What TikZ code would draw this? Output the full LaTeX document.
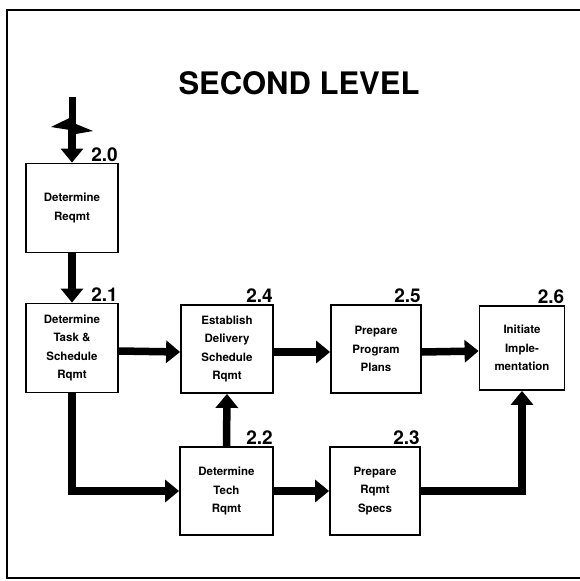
\documentclass[tikz,border=0pt]{standalone}
\usepackage{fontspec}
\setmainfont{TeX Gyre Heros}
\usetikzlibrary{arrows.meta}
\begin{document}
\begin{tikzpicture}[x=1pt,y=-1pt,
  box/.style={draw,line width=1.8pt,minimum width=92pt,minimum height=89pt,align=center,
    font=\bfseries\fontsize{11.5}{18.5}\selectfont,inner sep=2pt},
  num/.style={anchor=south east,inner sep=1pt,font=\bfseries\fontsize{19}{19}\selectfont},
  arr/.style={line width=7.5pt,-{Triangle[length=14pt,width=22pt]}}]
\useasboundingbox (0,0) rectangle (580,581);
% frame
\draw[line width=2pt] (580,10) -- (7,10) -- (7,578) -- (580,578);
% title
\node[font=\bfseries\fontsize{31}{31}\selectfont] (title) at (299,83) {SECOND LEVEL};
% boxes
\node[box] (b20) at (72,208) {Determine\\Reqmt};
\node[box] (b21) at (72,348) {Determine\\Task \&\\Schedule\\Rqmt};
\node[box,minimum height=88pt] (b24) at (227,349) {Establish\\Delivery\\Schedule\\Rqmt};
\node[box,minimum width=90pt,minimum height=88pt] (b25) at (376,349) {Prepare\\Program\\Plans};
\node[box,minimum width=85pt,minimum height=84pt] (b26) at (522,348) {Initiate\\Imple-\\mentation};
\node[box,minimum width=93pt,minimum height=88pt] (b22) at (226.5,491) {Determine\\Tech\\Rqmt};
\node[box,minimum width=90pt,minimum height=88pt] (b23) at (375,491) {Prepare\\Rqmt\\Specs};
% numbers
\node[num] (l20) at (b20.north east) {2.0};
\node[num] (l21) at (b21.north east) {2.1};
\node[num] (l24) at (b24.north east) {2.4};
\node[num] (l25) at (b25.north east) {2.5};
\node[num] (l26) at (b26.north east) {2.6};
\node[num] (l22) at (b22.north east) {2.2};
\node[num] (l23) at (b23.north east) {2.3};
% lightning input
\coordinate (ltop) at (72,97);
\coordinate (lbot) at (72,129);
\draw[line width=7pt] (ltop) -- (72,120);
\fill (75.5,115) -- (51,127) -- (70,130) -- (76,134) -- (93,131) -- (76,124) -- cycle;
\draw[arr] (lbot) -- (b20.north);
% connectors
\draw[arr] (b20.south) -- (b21.north);
\draw[arr] ([yshift=-3pt]b21.east) -- ([yshift=-3pt]b24.west);
\draw[arr] ([yshift=-3pt]b24.east) -- ([yshift=-3pt]b25.west);
\draw[arr] ([yshift=-3pt]b25.east) -- ([yshift=-3pt]b26.west);
\draw[arr] (b21.south) |- (b22.west);
\draw[arr] (b22.north) -- (b24.south);
\draw[arr] (b22.east) -- (b23.west);
\draw[arr] (b23.east) -| (b26.south);
\end{tikzpicture}
\end{document}
